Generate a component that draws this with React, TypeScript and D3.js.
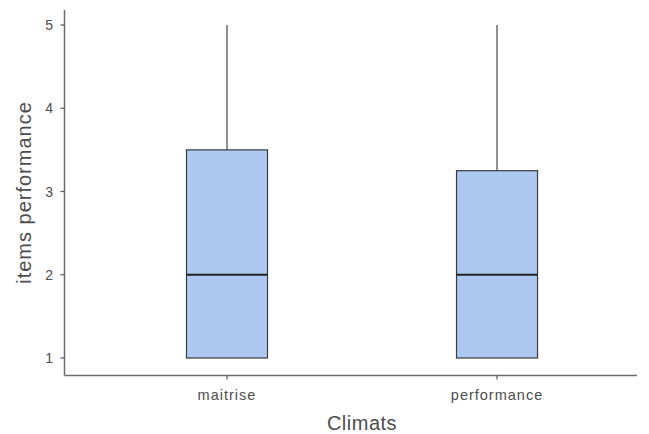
import React from "react";
import * as d3 from "d3";

const categories = ["maitrise", "performance"];
const q1 = [1, 1];
const medians = [2, 2];
const q3 = [3.5, 3.25];
const whiskerLow = [1, 1];
const whiskerHigh = [5, 5];
const yTicks = [1, 2, 3, 4, 5];

export default function App() {
  const W = 649, H = 434;
  const axisX = 64.5, axisY = 375.5, right = 637;
  const y = d3.scaleLinear().domain([1, 5]).range([358, 25]);
  const x = d3.scalePoint<string>().domain(categories).range([64, 637]).padding(0.561).align(0.538);
  const bw = x.step() * 0.3;
  const font = "Liberation Sans, Arial, sans-serif";
  return (
    <svg width={W} height={H} style={{ position: "absolute", left: 0, top: 0 }}>
      <rect width={W} height={H} fill="#fff" />
      {categories.map((c, i) => {
        const cx = x(c)!;
        return (
          <g key={c}>
            <line x1={cx} x2={cx} y1={y(q3[i])} y2={y(whiskerHigh[i])} stroke="#757575" strokeWidth={1.6} />
            <line x1={cx} x2={cx} y1={y(q1[i])} y2={y(whiskerLow[i])} stroke="#757575" strokeWidth={1.6} />
            <rect x={cx - bw / 2} y={y(q3[i])} width={bw} height={y(q1[i]) - y(q3[i])} fill="#aec9f1" stroke="#3a3a3a" strokeWidth={1.2} />
            <line x1={cx - bw / 2} x2={cx + bw / 2} y1={y(medians[i])} y2={y(medians[i])} stroke="#222" strokeWidth={2.2} />
          </g>
        );
      })}
      <line x1={axisX} x2={axisX} y1={10} y2={axisY} stroke="#6b6b6b" strokeWidth={1.5} />
      <line x1={axisX} x2={right} y1={axisY} y2={axisY} stroke="#6b6b6b" strokeWidth={1.5} />
      {yTicks.map((t) => (
        <g key={t}>
          <line x1={axisX - 4} x2={axisX} y1={y(t)} y2={y(t)} stroke="#555" strokeWidth={1.2} />
          <text x={53} y={y(t)} dy="0.36em" textAnchor="end" fontFamily={font} fontSize={14} fill="#4d4d4d">{t}</text>
        </g>
      ))}
      {categories.map((c) => (
        <g key={c}>
          <line x1={x(c)} x2={x(c)} y1={axisY} y2={axisY + 4} stroke="#555" strokeWidth={1.2} />
          <text x={x(c)} y={axisY + 24} textAnchor="middle" fontFamily={font} fontSize={14.5} letterSpacing={1} fill="#4d4d4d">{c}</text>
        </g>
      ))}
      <text x={362} y={430} textAnchor="middle" fontFamily={font} fontSize={20} letterSpacing={0.5} fill="#4d4d4d">Climats</text>
      <text transform={`translate(31, ${192.5}) rotate(-90)`} textAnchor="middle" fontFamily={font} fontSize={20} letterSpacing={1} fill="#4d4d4d">items performance</text>
    </svg>
  );
}
